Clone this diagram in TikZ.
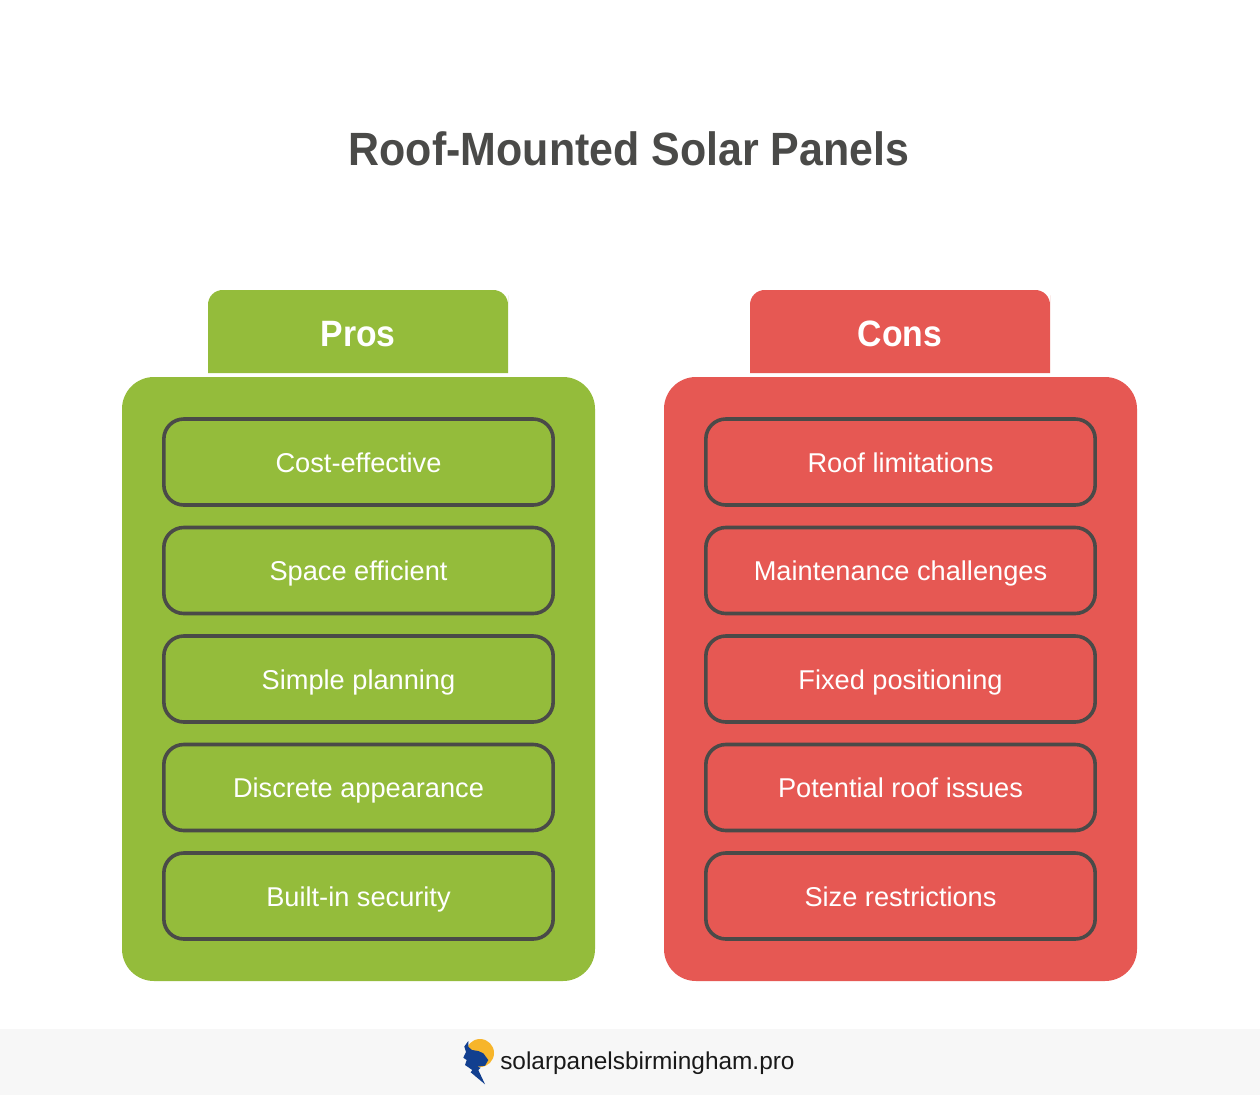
\documentclass[tikz,border=0pt]{standalone}
\usepackage{fontspec}
\setmainfont{Liberation Sans}
\newfontfamily\itemfont{Liberation Sans}
\newfontfamily\titlefont[FakeStretch=0.92]{Liberation Sans Bold}
\newfontfamily\footfont{Liberation Sans}
\definecolor{progreen}{HTML}{94BC3B}
\definecolor{conred}{HTML}{E65853}
\definecolor{inkdark}{HTML}{4A4A48}
\definecolor{footbg}{HTML}{F7F7F7}
\definecolor{logoyellow}{HTML}{F7B52A}
\definecolor{logoblue}{HTML}{123F8F}
\tikzset{
  x=0.75pt,y=-0.75pt,
  panel/.style={rounded corners=24pt},
  tabtext/.style={text=white,font=\titlefont\fontsize{27.5pt}{30pt}\selectfont,anchor=center,text height=20pt,text depth=6pt,inner sep=0pt},
  itembox/.style={draw=inkdark,line width=2.7pt,rounded corners=15pt,text=white,
    minimum width=292pt,minimum height=64.5pt,inner sep=0pt,text height=19pt,text depth=3.4pt,
    font=\itemfont\fontsize{20.4pt}{24pt}\selectfont},
}
\begin{document}
\begin{tikzpicture}
\useasboundingbox (0,0) rectangle (1260,1095);
\fill[white] (0,0) rectangle (1260,1095);
\fill[footbg] (0,1029) rectangle (1260,1095);
\node[text=inkdark,font=\titlefont\fontsize{35pt}{40pt}\selectfont] (title) at (629,149) {Roof-Mounted Solar Panels};
% Pros
\fill[progreen] (208,373) [sharp corners] -- (208,310) [rounded corners=11pt] -- (208,290) -- (508,290) -- (508,310) [sharp corners] -- (508,373) -- cycle;
\fill[progreen,panel] (122,377) rectangle (595,981);
\node[tabtext] (prostab) at (358,337) {Pros};
\node[itembox] (p1) at (358.5,462) {Cost-effective};
\node[itembox] (p2) at (358.5,570.5) {Space efficient};
\node[itembox] (p3) at (358.5,679) {Simple planning};
\node[itembox] (p4) at (358.5,787.5) {Discrete appearance};
\node[itembox] (p5) at (358.5,896) {Built-in security};
% Cons
\fill[conred] (750,373) [sharp corners] -- (750,310) [rounded corners=11pt] -- (750,290) -- (1050,290) -- (1050,310) [sharp corners] -- (1050,373) -- cycle;
\fill[conred,panel] (664,377) rectangle (1137,981);
\node[tabtext] (constab) at (900,337) {Cons};
\node[itembox] (c1) at (900.5,462) {Roof limitations};
\node[itembox] (c2) at (900.5,570.5) {Maintenance challenges};
\node[itembox] (c3) at (900.5,679) {Fixed positioning};
\node[itembox] (c4) at (900.5,787.5) {Potential roof issues};
\node[itembox] (c5) at (900.5,896) {Size restrictions};
% Footer
\fill[logoyellow] (480,1053) circle[radius=14];
\fill[logoblue] (468.3,1041) -- (464.3,1046.5) -- (466,1052) -- (463.3,1057.7) -- (466.7,1060) -- (465,1065) -- (472.3,1070) -- (470.7,1072.3) -- (485,1084.3) -- (478.3,1070) -- (480.7,1067.7) -- (476.7,1066.7) -- (485,1065.7) -- (488.3,1060) -- (483.3,1053.3) -- (478.3,1051) -- (472,1050) -- (468.5,1047) -- cycle;
\node[anchor=west,text=black!90,font=\footfont\fontsize{18.3pt}{22pt}\selectfont,inner sep=0pt,text height=14pt,text depth=4pt] (site) at (500,1063) {solarpanelsbirmingham.pro};
\end{tikzpicture}
\end{document}
